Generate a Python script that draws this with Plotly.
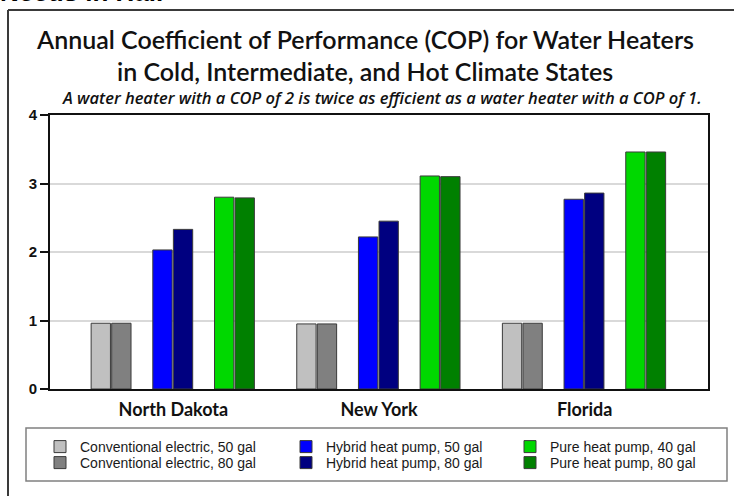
import plotly.graph_objects as go

# ---- data ----
states = ["North Dakota", "New York", "Florida"]
series_names = [
    "Conventional electric, 50 gal",
    "Conventional electric, 80 gal",
    "Hybrid heat pump, 50 gal",
    "Hybrid heat pump, 80 gal",
    "Pure heat pump, 40 gal",
    "Pure heat pump, 80 gal",
]
conv_50 = [0.96, 0.95, 0.96]
conv_80 = [0.96, 0.95, 0.96]
hybrid_50 = [2.03, 2.22, 2.77]
hybrid_80 = [2.33, 2.45, 2.86]
pure_40 = [2.80, 3.11, 3.46]
pure_80 = [2.79, 3.10, 3.46]
y_ticks = [0, 1, 2, 3, 4]

title_1 = "Annual Coefficient of Performance (COP) for Water Heaters"
title_2 = "in Cold, Intermediate, and Hot Climate States"
subtitle = "A water heater with a COP of 2 is twice as efficient as a water heater with a COP of 1."
page_heading = "Needs in Hall"

# ---- styling ----
W, H = 734, 496
L, R, T, B = 50, 708, 115, 389  # plot area in pixels


def px(x):
    return (x - L) / (R - L)


def py(y):
    return (B - y) / (B - T)


colors = ["#c0c0c0", "#808080", "#0000ff", "#000080", "#00d800", "#008000"]
offsets = [-0.40, -0.30, -0.10, 0.00, 0.20, 0.30]
values = [conv_50, conv_80, hybrid_50, hybrid_80, pure_40, pure_80]

# legend entry positions: column by series pair, row within pair
col_x = [40, 286, 510]
row_y = [447, 463]
leg_font = dict(family="Liberation Sans, Arial", size=14, color="#1a1a1a")

fig = go.Figure()
legend_layout = {}
for i, (name, vals, col, off) in enumerate(zip(series_names, values, colors, offsets)):
    lid = "legend" if i == 0 else f"legend{i + 1}"
    c, r = i // 2, i % 2
    fig.add_trace(go.Bar(
        x=states, y=vals, name=name,
        marker=dict(color=col, line=dict(color="#3a3a3a", width=1)),
        width=0.094, offset=off, legend=lid,
    ))
    legend_layout[lid] = dict(
        x=px(col_x[c]), y=py(row_y[r]), xanchor="left", yanchor="middle",
        font=leg_font, bgcolor="rgba(0,0,0,0)", borderwidth=0,
        itemwidth=30,
    )

fig.update_layout(
    width=W, height=H,
    margin=dict(l=L, r=W - R, t=T, b=H - B, pad=0),
    paper_bgcolor="white", plot_bgcolor="white",
    barmode="overlay",
    showlegend=True,
    **legend_layout,
    xaxis=dict(
        type="category", range=[-0.6, 2.6],
        showline=True, mirror=True, linecolor="#111111", linewidth=2,
        ticks="", showgrid=False,
        tickfont=dict(family="Lato, Open Sans", size=18, color="#111111", weight="bold"),
        ticklabelstandoff=3,
    ),
    yaxis=dict(
        range=[0, 4], tickvals=y_ticks, ticktext=[str(v) for v in y_ticks],
        showline=True, mirror=True, linecolor="#111111", linewidth=2,
        ticks="outside", ticklen=8, tickwidth=2, tickcolor="#111111",
        showgrid=True, gridcolor="#d9d9d9", gridwidth=1.5, zeroline=False,
        tickfont=dict(family="Liberation Sans, Arial", size=15, color="#111111", weight="bold"),
    ),
    font=dict(family="Liberation Sans, Arial"),
    shapes=[
        # legend frame
        dict(type="rect", xref="paper", yref="paper",
             x0=px(26), x1=px(727), y0=py(481), y1=py(428),
             line=dict(color="#808080", width=1.5), fillcolor="rgba(0,0,0,0)", layer="below"),
        # outer slide frame (left and top edges)
        dict(type="line", xref="paper", yref="paper",
             x0=px(8), x1=px(8), y0=py(10), y1=py(520),
             line=dict(color="#3a3a3a", width=2)),
        dict(type="line", xref="paper", yref="paper",
             x0=px(8), x1=px(760), y0=py(10), y1=py(10),
             line=dict(color="#3a3a3a", width=2)),
    ],
    annotations=[
        dict(text=title_1, xref="paper", yref="paper", x=px(365), y=py(39),
             xanchor="center", yanchor="middle", showarrow=False,
             font=dict(family="Lato, Open Sans", size=25, color="#111111", weight=600)),
        dict(text=title_2, xref="paper", yref="paper", x=px(365), y=py(71),
             xanchor="center", yanchor="middle", showarrow=False,
             font=dict(family="Lato, Open Sans", size=25, color="#111111", weight=600)),
        dict(text="<i>" + subtitle + "</i>", xref="paper", yref="paper", x=px(382), y=py(97),
             xanchor="center", yanchor="middle", showarrow=False,
             font=dict(family="Open Sans, Lato", size=16.5, color="#111111", weight=600)),
        dict(text=page_heading, xref="paper", yref="paper", x=px(-2), y=py(9),
             xanchor="left", yanchor="bottom", showarrow=False,
             font=dict(family="Liberation Sans, Arial", size=26, color="#000000", weight="bold")),
    ],
)

fig.write_html("out.html", config={"displayModeBar": False},
               post_script="document.body.style.margin='0';")
